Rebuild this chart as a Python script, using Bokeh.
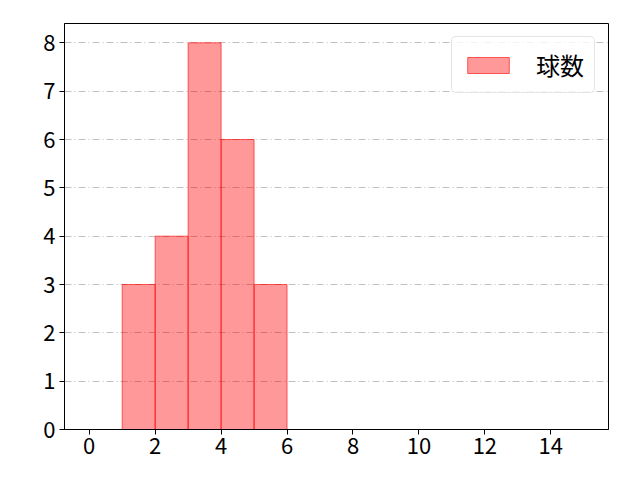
from bokeh.plotting import figure
from bokeh.models import Range1d, FixedTicker, Legend, LegendItem, ColumnDataSource
from bokeh.embed import file_html
from bokeh.resources import INLINE

# Histogram data: bin edges 0..15 (width 1), counts per bin
bin_edges = list(range(0, 16))
counts = [0, 3, 4, 8, 6, 3, 0, 0, 0, 0, 0, 0, 0, 0, 0]
series_label = "球数"
x_ticks = [0, 2, 4, 6, 8, 10, 12, 14]
y_ticks = [0, 1, 2, 3, 4, 5, 6, 7, 8]

FONT = "Noto Sans CJK JP"

lefts, rights, tops = [], [], []
for i, c in enumerate(counts):
    if c > 0:
        lefts.append(bin_edges[i])
        rights.append(bin_edges[i + 1])
        tops.append(c)
src = ColumnDataSource(dict(left=lefts, right=rights, top=tops, bottom=[0] * len(tops)))

p = figure(width=624, height=464, output_backend="svg", toolbar_location=None,
           x_range=Range1d(-0.75, 15.75), y_range=Range1d(0, max(counts) * 1.05),
           min_border_left=64, min_border_right=16, min_border_top=23, min_border_bottom=35)

r = p.quad(left="left", right="right", top="top", bottom="bottom", source=src,
           fill_color="red", fill_alpha=0.4, line_color="red", line_alpha=0.6, line_width=1)

p.xgrid.visible = False
p.ygrid.grid_line_color = "#b0b0b0"
p.ygrid.grid_line_dash = "7 3 1 3"
p.ygrid.grid_line_width = 0.8

for ax in (p.xaxis[0], p.yaxis[0]):
    ax.major_label_text_font = FONT
    ax.major_label_text_font_size = "22px"
    ax.major_label_text_color = "black"
    ax.major_tick_out = 5
    ax.major_tick_in = 0
    ax.minor_tick_out = 0
    ax.minor_tick_in = 0
    ax.axis_line_color = "black"
    ax.major_tick_line_color = "black"
    ax.major_label_standoff = 4
p.xaxis[0].major_label_standoff = 3
p.xaxis.ticker = FixedTicker(ticks=x_ticks)
p.yaxis.ticker = FixedTicker(ticks=y_ticks)

p.outline_line_color = "black"
p.outline_line_alpha = 1
p.outline_line_width = 1
p.background_fill_color = "white"
p.border_fill_color = "white"

legend = Legend(items=[LegendItem(label=series_label, renderers=[r])], location="top_right")
legend.label_text_font = FONT
legend.label_text_font_size = "24px"
legend.label_text_color = "black"
legend.label_text_line_height = 1.0
legend.glyph_width = 52
legend.glyph_height = 20
legend.label_height = 20
legend.label_standoff = 22
legend.padding = 10
legend.margin = 13
legend.spacing = 0
legend.border_line_color = "#cccccc"
legend.border_radius = 5
legend.background_fill_alpha = 0.8
p.add_layout(legend)

open("out.html", "w").write(file_html(p, INLINE))
